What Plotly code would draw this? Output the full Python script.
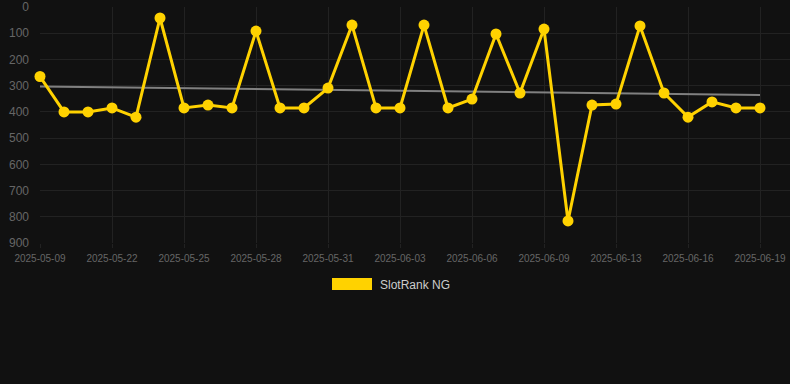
import numpy as np
import plotly.graph_objects as go

dates = ["2025-05-09", "2025-05-20", "2025-05-21", "2025-05-22", "2025-05-23", "2025-05-24",
         "2025-05-25", "2025-05-26", "2025-05-27", "2025-05-28", "2025-05-29", "2025-05-30",
         "2025-05-31", "2025-06-01", "2025-06-02", "2025-06-03", "2025-06-04", "2025-06-05",
         "2025-06-06", "2025-06-07", "2025-06-08", "2025-06-09", "2025-06-10", "2025-06-11",
         "2025-06-13", "2025-06-14", "2025-06-15", "2025-06-16", "2025-06-17", "2025-06-18",
         "2025-06-19"]
ranks = [265, 400, 400, 385, 420, 42, 385, 374, 385, 92, 385, 385, 309, 69, 385, 385,
         69, 385, 351, 103, 328, 84, 816, 374, 370, 72, 328, 420, 362, 385, 385]
tick_dates = dates[::3]
series_name = "SlotRank NG"

idx = np.arange(len(ranks))
slope, intercept = np.polyfit(idx, ranks, 1)
trend = slope * idx + intercept

YELLOW = "#FFD200"
fig = go.Figure()
fig.add_trace(go.Scatter(x=dates, y=trend, mode="lines", cliponaxis=False,
                         line=dict(color="#808080", width=2), showlegend=False, hoverinfo="skip"))
fig.add_trace(go.Scatter(x=dates, y=ranks, mode="lines+markers", name=series_name,
                         cliponaxis=False,
                         line=dict(color=YELLOW, width=3),
                         marker=dict(color=YELLOW, size=11), showlegend=False))

# legend drawn manually (rectangle swatch)
L, R, T, B = 40, 790, 7, 243
W, H = R - L, B - T
def px(x): return (x - L) / W
def py(y): return (B - y) / H
fig.add_shape(type="rect", xref="paper", yref="paper",
              x0=px(332), x1=px(372), y0=py(290), y1=py(278),
              fillcolor=YELLOW, line=dict(width=0))
fig.add_annotation(xref="paper", yref="paper", x=px(378), y=py(284.5), text=series_name,
                   showarrow=False, xanchor="left", yanchor="middle",
                   font=dict(family="Liberation Sans, Arial", size=12, color="#cccccc"))

fig.update_layout(
    width=790, height=384,
    margin=dict(l=L, r=790 - R, t=T, b=384 - B),
    paper_bgcolor="#111111", plot_bgcolor="#111111",
    font=dict(family="Liberation Sans, Arial", color="#666666"),
    showlegend=False,
)
fig.update_xaxes(type="category", range=[0, 31.25], tickvals=tick_dates, ticktext=tick_dates,
                 showgrid=True, gridcolor="#222222", gridwidth=1, zeroline=False,
                 tickfont=dict(size=10, color="#666666"), ticks="outside", ticklen=4,
                 tickcolor="#222222", ticklabelstandoff=2, showline=False)
fig.update_yaxes(range=[900, 0], tickvals=list(range(0, 1000, 100)),
                 showgrid=True, gridcolor="#222222", gridwidth=1, zeroline=False,
                 tickfont=dict(size=12, color="#666666"), ticks="", ticklabelstandoff=10)

fig.write_html("out.html")
